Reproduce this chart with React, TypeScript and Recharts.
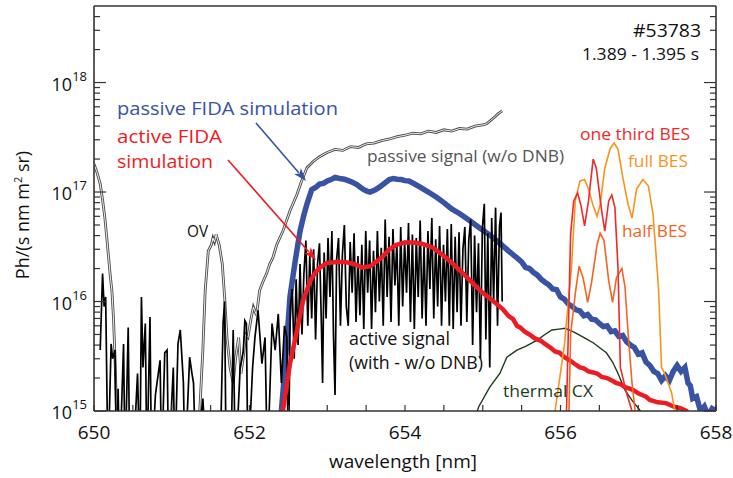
import React from "react";
import { LineChart, Line, XAxis, YAxis } from "recharts";

// wavelength [nm], photon radiance [Ph/(s nm m^2 sr)]
const passiveSignal: [number, number][] = [
  [650.0, 1.8e17], [650.04, 1.5e17], [650.08, 1.18e17], [650.11, 8.5e16], [650.14, 5.8e16],
  [650.18, 2.9e16], [650.21, 1.7e16], [650.23, 1.26e16], [650.25, 7.2e15], [650.27, 3.1e15],
  [650.29, 1e15], [650.31, 3e14], [651.33, 3e14], [651.36, 1e15], [651.4, 3.6e15],
  [651.43, 1.26e16], [651.47, 2.9e16], [651.51, 3.3e16], [651.53, 3.8e16], [651.55, 3.5e16],
  [651.57, 4.1e16], [651.61, 3.3e16], [651.65, 2.2e16], [651.68, 1.1e16], [651.71, 4.7e15],
  [651.75, 2.5e15], [651.79, 1.8e15], [651.82, 3e15], [651.86, 4.7e15], [651.89, 2.2e15],
  [651.92, 3.1e15], [651.95, 5e15], [651.98, 4.7e15], [652.02, 7e15], [652.05, 8.9e15],
  [652.09, 7.5e15], [652.13, 1.26e16], [652.17, 1.5e16], [652.22, 1.8e16], [652.26, 2.2e16],
  [652.3, 2.5e16], [652.35, 3.3e16], [652.43, 4.4e16], [652.52, 6.7e16], [652.61, 9.5e16],
  [652.67, 1.26e17], [652.74, 1.67e17], [652.82, 1.9e17], [652.9, 2.1e17], [653.0, 2.3e17],
  [653.1, 2.45e17], [653.2, 2.4e17], [653.3, 2.6e17], [653.4, 2.55e17], [653.5, 2.75e17],
  [653.6, 2.8e17], [653.7, 2.95e17], [653.8, 3.05e17], [653.9, 3.2e17], [654.0, 3.3e17],
  [654.1, 3.45e17], [654.2, 3.4e17], [654.3, 3.6e17], [654.4, 3.5e17], [654.5, 3.7e17],
  [654.6, 3.6e17], [654.7, 3.8e17], [654.8, 3.75e17], [654.9, 4e17], [655.0, 4.1e17],
  [655.05, 4.2e17], [655.1, 4.5e17], [655.16, 4.9e17], [655.2, 5.2e17], [655.25, 5.5e17],
];

const activeSignal: [number, number][] = [
  [650.08, 3.6e15], [650.11, 1.8e16], [650.13, 9e15], [650.15, 1.1e16], [650.18, 3e14],
  [650.22, 4.1e15], [650.24, 3e15], [650.27, 3.6e15], [650.29, 3e14], [650.31, 1.6e15],
  [650.33, 3e14], [650.38, 4.1e15], [650.4, 3e14], [650.44, 5.8e15], [650.46, 3e14],
  [650.5, 3e14], [650.56, 2.2e15], [650.59, 3e14], [650.61, 1.1e16], [650.63, 2.5e15],
  [650.66, 6.3e15], [650.68, 3e14], [650.72, 7.2e15], [650.74, 3e14], [650.79, 1.4e15],
  [650.81, 1.8e15], [650.85, 2.9e15], [650.87, 3e14], [650.91, 3.4e15], [650.94, 3.6e15],
  [650.96, 3e14], [651.02, 2.5e15], [651.04, 3e14], [651.08, 4.1e15], [651.11, 5.5e15],
  [651.15, 1.8e15], [651.17, 3e14], [651.23, 3.1e15], [651.26, 2.2e15], [651.28, 1.8e15],
  [651.31, 3e14], [651.4, 1.3e15], [651.45, 3e14], [651.62, 3e14], [651.66, 6.3e15],
  [651.68, 1e16], [651.7, 3e14], [651.76, 3e14], [651.79, 5.5e15], [651.82, 3e14],
  [651.88, 2.5e15], [651.92, 3.5e15], [651.94, 6.7e15], [651.96, 6.3e15], [651.98, 3e14],
  [652.04, 2.5e15], [652.07, 4.7e15], [652.11, 8.3e15], [652.16, 2.7e15], [652.2, 4.7e15],
  [652.23, 3e14], [652.29, 6.3e15], [652.33, 3.6e15], [652.37, 7.7e15], [652.41, 1.8e15],
  [652.45, 6e15], [652.48, 4.7e15], [652.5, 3e14], [652.525, 9e15], [652.55, 1.3e16],
  [652.575, 3e15], [652.6, 1.6e16], [652.625, 4e15], [652.65, 2.2e16], [652.675, 5e15],
  [652.7, 1.8e16], [652.725, 3.6e16], [652.75, 6e15], [652.775, 2.6e16], [652.8, 7e15],
  [652.825, 3e16], [652.85, 4.5e15], [652.875, 2.2e16], [652.9, 3.4e16], [652.925, 6e15],
  [652.94, 1.8e15], [652.96, 2.8e16], [652.985, 7e15], [653.01, 3.8e16], [653.035, 1.1e16],
  [653.06, 4.4e16], [653.08, 5e15], [653.1, 1.4e15], [653.12, 2.4e16], [653.145, 3.8e16],
  [653.17, 6e15], [653.195, 2.7e16], [653.22, 5e16], [653.245, 9e15], [653.27, 6e15],
  [653.295, 3.5e16], [653.32, 1.2e16], [653.345, 4.2e16], [653.37, 6.5e15], [653.395, 2.6e16],
  [653.42, 7.5e15], [653.445, 3.3e16], [653.47, 5.6e15], [653.495, 4.4e16], [653.52, 1.2e16],
  [653.545, 3.6e16], [653.57, 5.6e15], [653.595, 2.9e16], [653.62, 8e15], [653.645, 4.4e16],
  [653.67, 1e16], [653.695, 3.1e16], [653.72, 6e15], [653.745, 5.6e16], [653.77, 1.1e16],
  [653.795, 3.9e16], [653.82, 6.5e15], [653.845, 4.6e16], [653.87, 1.4e16], [653.895, 3.4e16],
  [653.92, 6e15], [653.945, 4.8e16], [653.97, 9e15], [653.995, 3.6e16], [654.02, 1.2e16],
  [654.045, 5.2e16], [654.07, 6.5e15], [654.095, 4.1e16], [654.12, 5.6e15], [654.145, 3.8e16],
  [654.17, 1.1e16], [654.195, 5.5e16], [654.22, 7e15], [654.245, 3.2e16], [654.27, 6e15],
  [654.295, 4.4e16], [654.32, 1.3e16], [654.345, 5.8e16], [654.37, 7e15], [654.395, 3.7e16],
  [654.42, 9e15], [654.445, 4.9e16], [654.47, 6e15], [654.495, 3.3e16], [654.52, 1e16],
  [654.545, 4.6e16], [654.57, 6e15], [654.595, 5.1e16], [654.62, 5.6e15], [654.645, 3.9e16],
  [654.67, 8e15], [654.695, 4.3e16], [654.72, 6e15], [654.745, 3e16], [654.77, 4.8e16],
  [654.795, 6.5e15], [654.82, 3.6e16], [654.845, 5.6e16], [654.87, 4e15], [654.895, 4e16],
  [654.92, 8e15], [654.945, 3.4e16], [654.97, 3e15], [654.995, 4.7e16], [655.02, 7.8e16],
  [655.04, 4.5e15], [655.065, 4.2e16], [655.09, 2.5e15], [655.115, 5.8e16], [655.14, 1e16],
  [655.165, 7.2e16], [655.19, 6e15], [655.215, 4.8e16], [655.235, 6.5e16], [655.25, 1e16],
];

const passiveFida: [number, number][] = [
  [652.38, 5e14], [652.41, 1e15], [652.46, 2.7e15], [652.52, 1.1e16], [652.59, 2.4e16],
  [652.65, 4.4e16], [652.7, 6.2e16], [652.74, 7.8e16], [652.8, 1.05e17], [652.85, 1.1e17],
  [652.9, 1.18e17], [652.95, 1.2e17], [653.0, 1.26e17], [653.05, 1.3e17], [653.1, 1.36e17],
  [653.16, 1.33e17], [653.22, 1.31e17], [653.27, 1.27e17], [653.33, 1.22e17], [653.38, 1.17e17],
  [653.43, 1.1e17], [653.47, 1.05e17], [653.51, 1.02e17], [653.55, 1e17], [653.62, 1.05e17],
  [653.68, 1.12e17], [653.75, 1.22e17], [653.8, 1.3e17], [653.85, 1.33e17], [653.9, 1.31e17],
  [653.95, 1.3e17], [654.0, 1.27e17], [654.05, 1.26e17], [654.11, 1.2e17], [654.2, 1.1e17],
  [654.3, 1e17], [654.41, 8.9e16], [654.5, 8e16], [654.6, 7e16], [654.71, 6.3e16],
  [654.83, 5.5e16], [654.96, 4.7e16], [655.1, 4e16], [655.22, 3.4e16], [655.33, 2.9e16],
  [655.44, 2.5e16], [655.5, 2.3e16], [655.55, 2.05e16], [655.6, 2e16], [655.65, 1.85e16],
  [655.7, 1.75e16], [655.75, 1.6e16], [655.8, 1.5e16], [655.85, 1.42e16], [655.9, 1.3e16],
  [655.95, 1.28e16], [656.0, 1.1e16], [656.05, 1.05e16], [656.1, 9.5e15], [656.15, 9e15],
  [656.2, 8.4e15], [656.25, 8.2e15], [656.3, 7.4e15], [656.35, 7.6e15], [656.4, 6.9e15],
  [656.45, 6.8e15], [656.5, 6.3e15], [656.55, 5.9e15], [656.6, 6e15], [656.65, 5.3e15],
  [656.7, 5.4e15], [656.75, 4.8e15], [656.8, 4.9e15], [656.85, 4.3e15], [656.9, 4e15],
  [656.95, 3.8e15], [657.0, 3.3e15], [657.05, 3.4e15], [657.1, 2.8e15], [657.15, 2.6e15],
  [657.2, 2.3e15], [657.25, 2.2e15], [657.3, 1.9e15], [657.35, 2.1e15], [657.4, 1.9e15],
  [657.45, 2.3e15], [657.5, 2.6e15], [657.55, 2.3e15], [657.6, 2.5e15], [657.64, 1.8e15],
  [657.67, 1.7e15], [657.7, 1.3e15], [657.75, 1.35e15], [657.8, 1e15], [657.85, 1.1e15],
  [657.9, 9e14], [657.95, 1.05e15], [658.0, 1e15],
];

const activeFida: [number, number][] = [
  [652.41, 5e14], [652.43, 1e15], [652.52, 2.7e15], [652.61, 5.4e15], [652.69, 1.02e16],
  [652.78, 1.55e16], [652.85, 1.85e16], [652.91, 2.05e16], [653.0, 2.25e16], [653.12, 2.3e16],
  [653.23, 2.3e16], [653.34, 2.2e16], [653.45, 2.05e16], [653.55, 2.1e16], [653.63, 2.3e16],
  [653.72, 2.6e16], [653.8, 3e16], [653.89, 3.3e16], [654.0, 3.45e16], [654.11, 3.45e16],
  [654.23, 3.35e16], [654.36, 3.1e16], [654.5, 2.6e16], [654.62, 2.2e16], [654.75, 1.8e16],
  [654.88, 1.45e16], [655.0, 1.2e16], [655.14, 1e16], [655.26, 8.5e15], [655.33, 7.4e15],
  [655.39, 6.9e15], [655.44, 6e15], [655.48, 5.8e15], [655.54, 5.3e15], [655.6, 5e15],
  [655.67, 4.6e15], [655.74, 4.4e15], [655.8, 4.1e15], [655.87, 3.8e15], [655.93, 3.5e15],
  [655.99, 3.4e15], [656.05, 3.1e15], [656.12, 2.9e15], [656.18, 2.7e15], [656.25, 2.5e15],
  [656.3, 2.45e15], [656.36, 2.3e15], [656.42, 2.25e15], [656.47, 2.2e15], [656.53, 2.05e15],
  [656.6, 2e15], [656.66, 1.9e15], [656.72, 1.8e15], [656.78, 1.75e15], [656.83, 1.65e15],
  [656.89, 1.6e15], [656.94, 1.55e15], [657.0, 1.45e15], [657.05, 1.4e15], [657.1, 1.35e15],
  [657.15, 1.26e15], [657.25, 1.2e15], [657.36, 1.18e15], [657.45, 1.1e15], [657.54, 1.06e15],
  [657.62, 1e15], [657.66, 8e14],
];

const thermalCx: [number, number][] = [
  [654.88, 8e14], [654.95, 1.1e15], [655.09, 1.65e15], [655.22, 2.2e15], [655.31, 3.1e15],
  [655.44, 3.6e15], [655.55, 3.9e15], [655.69, 4.4e15], [655.8, 5e15], [655.89, 5.5e15],
  [655.98, 5.6e15], [656.06, 5.7e15], [656.14, 5.4e15], [656.21, 5.1e15], [656.32, 4.6e15],
  [656.42, 4.2e15], [656.5, 3.8e15], [656.59, 3.4e15], [656.67, 2.8e15], [656.74, 2.2e15],
  [656.83, 1.55e15], [656.92, 1.25e15], [657.02, 1.02e15], [657.08, 7e14],
];

const fullBes: [number, number][] = [
  [655.93, 1e15], [656.05, 4e15], [656.14, 2e16], [656.19, 8.3e16], [656.25, 1.26e17],
  [656.31, 1.3e17], [656.36, 1.07e17], [656.42, 7.5e16], [656.47, 6e16], [656.51, 7.7e16],
  [656.57, 1.66e17], [656.64, 2.5e17], [656.69, 2.8e17], [656.74, 2.45e17], [656.81, 1.26e17],
  [656.87, 7.7e16], [656.92, 5.8e16], [656.98, 1.07e17], [657.06, 1.3e17], [657.13, 1.14e17],
  [657.19, 6.3e16], [657.26, 1.35e16], [657.3, 2.5e15], [657.34, 2.2e15], [657.43, 1.46e15],
  [657.47, 1e15], [657.5, 7e14],
];

const halfBes: [number, number][] = [
  [656.1, 5e14], [656.13, 5e15], [656.19, 1.18e16], [656.24, 2.1e16], [656.29, 1.65e16],
  [656.35, 9.8e15], [656.4, 1.5e16], [656.47, 3.3e16], [656.51, 4.2e16], [656.56, 3.6e16],
  [656.62, 1.55e16], [656.67, 9.8e15], [656.72, 1.65e16], [656.79, 2e16], [656.83, 1.35e16],
  [656.87, 5.1e15], [656.92, 1.8e15], [656.96, 1e15], [656.98, 6e14],
];

const thirdBes: [number, number][] = [
  [656.07, 6e14], [656.1, 5.1e15], [656.13, 4.1e16], [656.17, 8.3e16], [656.22, 9.8e16],
  [656.26, 7.7e16], [656.31, 4.9e16], [656.36, 8.3e16], [656.42, 2e17], [656.46, 1.66e17],
  [656.53, 6.7e16], [656.57, 4.4e16], [656.62, 8.3e16], [656.66, 9.4e16], [656.7, 7.2e16],
  [656.74, 2e16], [656.77, 2.5e15], [656.85, 1.45e15], [656.92, 1e15], [656.95, 6e14],
];

const xTicks = [650, 650.5, 651, 651.5, 652, 652.5, 653, 653.5, 654, 654.5, 655, 655.5, 656, 656.5, 657, 657.5, 658];
const xTickLabels = [650, 652, 654, 656, 658];
const yTicks = [
  1e15, 2e15, 3e15, 4e15, 5e15, 6e15, 7e15, 8e15, 9e15,
  1e16, 2e16, 3e16, 4e16, 5e16, 6e16, 7e16, 8e16, 9e16,
  1e17, 2e17, 3e17, 4e17, 5e17, 6e17, 7e17, 8e17, 9e17,
  1e18, 2e18, 3e18, 4e18,
];

const pts = (a: [number, number][]) => a.map(([x, y]) => ({ x, y }));

const FONT = "'Open Sans', sans-serif";
const AXIS = "#333";

const isDecade = (v: number) => {
  const e = Math.log10(v);
  return Math.abs(e - Math.round(e)) < 1e-6;
};

const LeftTick = (props: any) => {
  const { x, y, payload } = props;
  const v = payload.value;
  const major = isDecade(v);
  return (
    <g>
      <line x1={x} x2={x + (major ? 12 : 6)} y1={y} y2={y} stroke={AXIS} strokeWidth={1.2} />
      {major && (
        <text x={x - 7} y={y + 8} textAnchor="end" fontFamily={FONT} fontSize={18} fill="#111">
          10
          <tspan dy={-10} fontSize={13}>{Math.round(Math.log10(v))}</tspan>
        </text>
      )}
    </g>
  );
};

const RightTick = (props: any) => {
  const { x, y, payload } = props;
  const major = isDecade(payload.value);
  return <line x1={x} x2={x - (major ? 12 : 6)} y1={y} y2={y} stroke={AXIS} strokeWidth={1.2} />;
};

const BottomTick = (props: any) => {
  const { x, y, payload } = props;
  const v = payload.value;
  return (
    <g>
      <line x1={x} x2={x} y1={y} y2={y - 6} stroke={AXIS} strokeWidth={1.2} />
      {xTickLabels.includes(v) && (
        <text x={x} y={y + 28} textAnchor="middle" fontFamily={FONT} fontSize={19} fill="#111">
          {v}
        </text>
      )}
    </g>
  );
};

const TopTick = (props: any) => {
  const { x, y } = props;
  return <line x1={x} x2={x} y1={y} y2={y + 6} stroke={AXIS} strokeWidth={1.2} />;
};

const Arrow = ({ x1, y1, x2, y2, color }: { x1: number; y1: number; x2: number; y2: number; color: string }) => {
  const dx = x2 - x1;
  const dy = y2 - y1;
  const len = Math.hypot(dx, dy);
  const ux = dx / len;
  const uy = dy / len;
  const hl = 13;
  const hw = 4.5;
  const bx = x2 - ux * hl;
  const by = y2 - uy * hl;
  return (
    <g>
      <line x1={x1} y1={y1} x2={bx + ux * 2} y2={by + uy * 2} stroke={color} strokeWidth={1.6} />
      <polygon
        points={`${x2},${y2} ${bx - uy * hw},${by + ux * hw} ${bx + ux * 3},${by + uy * 3} ${bx + uy * hw},${by - ux * hw}`}
        fill={color}
      />
    </g>
  );
};

const note = (x: number, y: number, text: string, color: string, size: number, width: number) => (
  <text
    x={x}
    y={y}
    fill={color}
    fontFamily={FONT}
    fontSize={size}
    textLength={width}
    lengthAdjust="spacingAndGlyphs"
  >
    {text}
  </text>
);

export default function App() {
  return (
    <div style={{ position: "absolute", left: 0, top: 0, width: 733, height: 478, background: "#fff" }}>
      <LineChart width={733} height={478} margin={{ top: 1, right: 7, bottom: 27, left: 34 }}>
        <XAxis
          dataKey="x"
          type="number"
          domain={[650, 658]}
          ticks={xTicks}
          interval={0}
          allowDataOverflow
          tickSize={0}
          tickMargin={0}
          height={40}
          axisLine={{ stroke: AXIS, strokeWidth: 1.6 }}
          tickLine={false}
          tick={<BottomTick />}
        />
        <XAxis
          xAxisId="top"
          orientation="top"
          dataKey="x"
          type="number"
          domain={[650, 658]}
          ticks={xTicks}
          interval={0}
          tickSize={0}
          tickMargin={0}
          height={5}
          axisLine={{ stroke: AXIS, strokeWidth: 1.6 }}
          tickLine={false}
          tick={<TopTick />}
        />
        <YAxis
          type="number"
          scale="log"
          domain={[1e15, 5e18]}
          ticks={yTicks}
          interval={0}
          allowDataOverflow
          width={60}
          tickSize={0}
          tickMargin={0}
          axisLine={{ stroke: AXIS, strokeWidth: 1.6 }}
          tickLine={false}
          tick={<LeftTick />}
        />
        <YAxis
          yAxisId="right"
          orientation="right"
          type="number"
          scale="log"
          domain={[1e15, 5e18]}
          ticks={yTicks}
          interval={0}
          allowDataOverflow
          width={10}
          tickSize={0}
          tickMargin={0}
          axisLine={{ stroke: AXIS, strokeWidth: 1.6 }}
          tickLine={false}
          tick={<RightTick />}
        />

        <Line data={pts(passiveSignal)} dataKey="y" type="linear" stroke="#4d4d4d" strokeWidth={2.8} dot={false} isAnimationActive={false} />
        <Line data={pts(passiveSignal)} dataKey="y" type="linear" stroke="#ffffff" strokeWidth={0.9} dot={false} isAnimationActive={false} />
        <Line data={pts(passiveFida)} dataKey="y" type="linear" stroke="#3953a4" strokeWidth={5.5} strokeLinejoin="miter" dot={false} isAnimationActive={false} />
        <Line data={pts(activeSignal)} dataKey="y" type="linear" stroke="#000000" strokeWidth={1.7} dot={false} isAnimationActive={false} />
        <Line data={pts(thermalCx)} dataKey="y" type="linear" stroke="#1c3a1c" strokeWidth={1.4} dot={false} isAnimationActive={false} />
        <Line data={pts(activeFida)} dataKey="y" type="linear" stroke="#ed1c24" strokeWidth={4.5} dot={false} isAnimationActive={false} />
        <Line data={pts(fullBes)} dataKey="y" type="linear" stroke="#f7941d" strokeWidth={1.6} dot={false} isAnimationActive={false} />
        <Line data={pts(halfBes)} dataKey="y" type="linear" stroke="#f26522" strokeWidth={1.6} dot={false} isAnimationActive={false} />
        <Line data={pts(thirdBes)} dataKey="y" type="linear" stroke="#ee2a2a" strokeWidth={1.6} dot={false} isAnimationActive={false} />
      </LineChart>

      <svg width={733} height={478} style={{ position: "absolute", left: 0, top: 0, pointerEvents: "none" }}>
        <text
          transform="translate(29, 215) rotate(-90)"
          textAnchor="middle"
          fontFamily={FONT}
          fontSize={18}
          fill="#111"
        >
          Ph/(s nm m<tspan dy={-7} fontSize={11}>2</tspan>
          <tspan dy={7}> sr)</tspan>
        </text>
        <text x={403} y={468} textAnchor="middle" fontFamily={FONT} fontSize={19} fill="#111">
          wavelength [nm]
        </text>

        {note(633, 37, "#53783", "#111", 19, 68)}
        {note(582, 60, "1.389 - 1.395 s", "#111", 17, 117)}
        {note(117, 115, "passive FIDA simulation", "#3953a4", 19, 221)}
        {note(117, 143, "active FIDA", "#ed1c24", 19, 105)}
        {note(117, 168, "simulation", "#ed1c24", 19, 96)}
        {note(367, 162, "passive signal (w/o DNB)", "#555555", 17, 197)}
        {note(187, 237, "OV", "#111", 17, 21)}
        {note(349, 345, "active signal", "#111", 18, 101)}
        {note(349, 369, "(with - w/o DNB)", "#111", 18, 134)}
        {note(503, 397, "thermal CX", "#1c3a1c", 17, 90)}
        {note(580, 140, "one third BES", "#ee2a2a", 17, 110)}
        {note(628, 167, "full BES", "#f7941d", 17, 60)}
        {note(622, 237, "half BES", "#f26522", 17, 65)}

        <Arrow x1={256} y1={123} x2={306} y2={181} color="#3953a4" />
        <Arrow x1={228} y1={160} x2={316} y2={260} color="#ed1c24" />
      </svg>
    </div>
  );
}
